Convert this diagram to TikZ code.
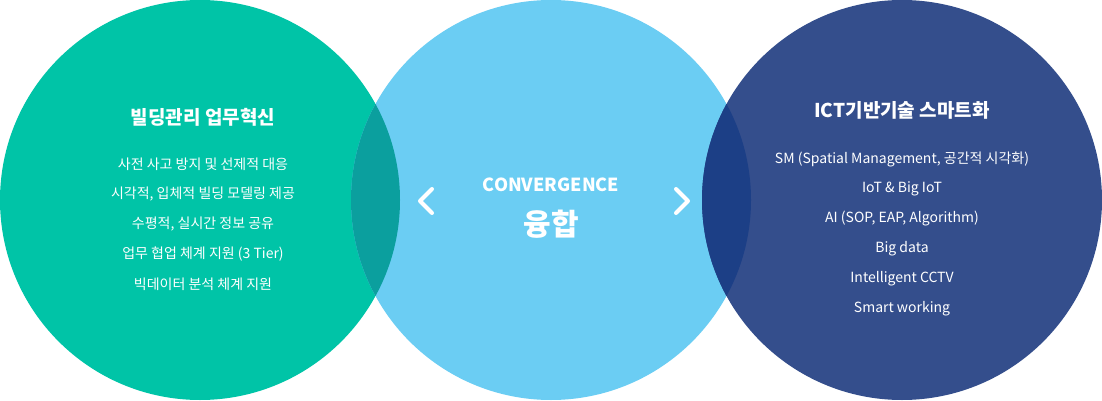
\documentclass[tikz,border=0pt]{standalone}
\usepackage{fontspec}
\setmainfont{Noto Sans CJK KR}
\definecolor{cL}{HTML}{00C4A7}
\definecolor{cM}{HTML}{6BCDF3}
\definecolor{cR}{HTML}{344E8C}
\definecolor{cLM}{HTML}{0B9F9E}
\definecolor{cMR}{HTML}{1C3F86}
\begin{document}
\begin{tikzpicture}[x=1pt,y=-1pt,
  title/.style={text=white,font=\bfseries\fontsize{19}{22}\selectfont},
  item/.style={text=white,font=\fontsize{14}{16}\selectfont},
  chev/.style={draw=white,line width=4pt,line cap=round,line join=round}]
\useasboundingbox (0,0) rectangle (1102,401);
\fill[cL] (200,200) circle (200);
\fill[cM] (551,200) circle (200);
\fill[cR] (902,200) circle (200);
\begin{scope}
\clip (200,200) circle (200);
\fill[cLM] (551,200) circle (200);
\end{scope}
\begin{scope}
\clip (551,200) circle (200);
\fill[cMR] (902,200) circle (200);
\end{scope}
\node[title] (lt) at (203,117) {빌딩관리 업무혁신};
\foreach \t [count=\i] in {사전 사고 방지 및 선제적 대응, {시각적, 입체적 빌딩 모델링 제공}, {수평적, 실시간 정보 공유}, 업무 협업 체계 지원 (3 Tier), 빅데이터 분석 체계 지원}
  \node[item] (l\i) at (203,134+30*\i) {\t};
\node[title] (rt) at (902,110) {ICT기반기술 스마트화};
\foreach \t [count=\i] in {{SM (Spatial Management, 공간적 시각화)}, IoT \& Big IoT, {AI (SOP, EAP, Algorithm)}, Big data, Intelligent CCTV, Smart working}
  \node[item] (r\i) at (902,129+30*\i) {\t};
\node[title,font=\bfseries\fontsize{18}{20}\selectfont] (mc) at (551,185) {CONVERGENCE};
\node[title,font=\bfseries\fontsize{30}{32}\selectfont] (mk) at (551,224) {융합};
\coordinate (a1) at (432,189); \coordinate (a2) at (420,201); \coordinate (a3) at (432,213);
\draw[chev] (a1) -- (a2) -- (a3);
\coordinate (b1) at (676,189); \coordinate (b2) at (688,201); \coordinate (b3) at (676,213);
\draw[chev] (b1) -- (b2) -- (b3);
\end{tikzpicture}
\end{document}
